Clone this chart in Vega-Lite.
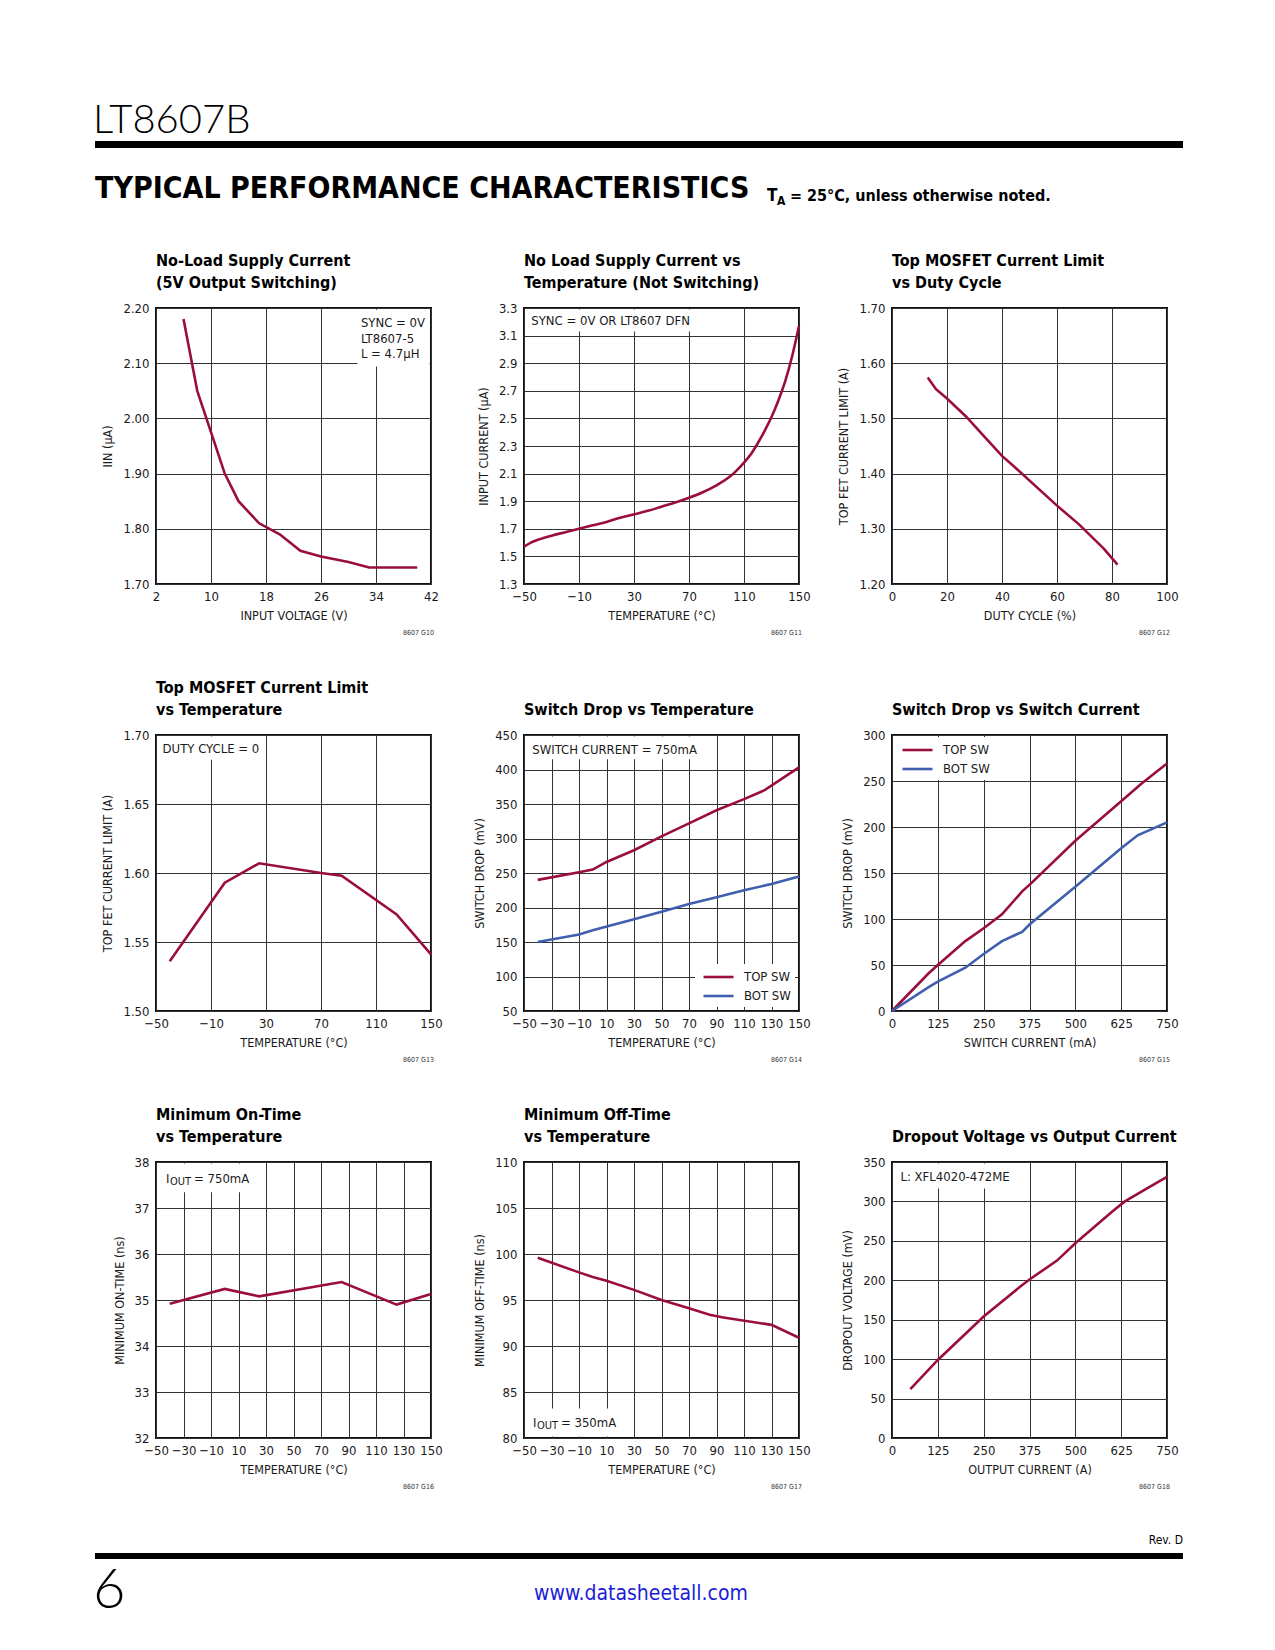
{
  "$schema": "https://vega.github.io/schema/vega-lite/v6.json",
  "background": "white",
  "padding": 0,
  "autosize": {"type": "pad"},
  "config": {
    "font": "DejaVu Sans Condensed, DejaVu Sans, sans-serif",
    "view": {"stroke": "#111111", "strokeWidth": 2},
    "axis": {"grid": true, "gridColor": "#333333", "gridWidth": 1, "gridOpacity": 1, "ticks": false, "domain": false, "tickCount": 40, "labelFontSize": 13, "labelColor": "#1a1a1a", "labelFlush": false, "labelOverlap": false, "labelBound": false, "titleFontSize": 12.5, "titleFontWeight": "normal", "titleColor": "#1a1a1a"},
    "axisX": {"labelPadding": 6, "titlePadding": 6},
    "axisY": {"labelPadding": 7, "titlePadding": 8},
    "title": {"anchor": "start", "frame": "group", "fontSize": 16, "fontWeight": "bold", "color": "#000000", "offset": 11, "lineHeight": 22},
    "legend": {"symbolType": "M-0.6,0H3.4", "symbolSize": 225, "symbolStrokeWidth": 3, "labelFontSize": 13, "labelColor": "#1a1a1a", "fillColor": "white", "padding": 4, "offset": 4, "rowPadding": 3, "labelOffset": 27},
    "line": {"strokeWidth": 2.6, "color": "#9A0F3A"},
    "text": {"fontSize": 13, "color": "#1a1a1a"}
  },
  "datasets": {
    "one": [{}],
    "g10": [{"v":6,"i":2.18},{"v":8,"i":2.05},{"v":10,"i":1.975},{"v":12,"i":1.90},{"v":14,"i":1.85},{"v":17,"i":1.81},{"v":20,"i":1.79},{"v":23,"i":1.76},{"v":26,"i":1.75},{"v":30,"i":1.74},{"v":33,"i":1.73},{"v":40,"i":1.73}],
    "g11": [{"t":-50,"i":1.57},{"t":-45,"i":1.60},{"t":-40,"i":1.62},{"t":-30,"i":1.65},{"t":-20,"i":1.675},{"t":-10,"i":1.70},{"t":0,"i":1.725},{"t":10,"i":1.75},{"t":20,"i":1.78},{"t":30,"i":1.805},{"t":40,"i":1.83},{"t":50,"i":1.86},{"t":60,"i":1.89},{"t":70,"i":1.925},{"t":80,"i":1.965},{"t":90,"i":2.015},{"t":100,"i":2.08},{"t":110,"i":2.18},{"t":115,"i":2.24},{"t":120,"i":2.32},{"t":125,"i":2.41},{"t":130,"i":2.51},{"t":135,"i":2.63},{"t":140,"i":2.77},{"t":145,"i":2.95},{"t":150,"i":3.17}],
    "g12": [{"d":13,"a":1.574},{"d":16,"a":1.553},{"d":20,"a":1.536},{"d":27,"a":1.503},{"d":33,"a":1.47},{"d":40,"a":1.432},{"d":45,"a":1.41},{"d":60,"a":1.342},{"d":68,"a":1.308},{"d":77,"a":1.264},{"d":82,"a":1.235}],
    "g13": [{"t":-40,"a":1.536},{"t":0,"a":1.593},{"t":25,"a":1.607},{"t":70,"a":1.600},{"t":85,"a":1.598},{"t":125,"a":1.570},{"t":150,"a":1.541}],
    "g14": [{"t":-40,"mv":240,"s":"TOP SW"},{"t":-10,"mv":251,"s":"TOP SW"},{"t":0,"mv":255,"s":"TOP SW"},{"t":10,"mv":266,"s":"TOP SW"},{"t":30,"mv":283,"s":"TOP SW"},{"t":50,"mv":303,"s":"TOP SW"},{"t":70,"mv":322,"s":"TOP SW"},{"t":90,"mv":341,"s":"TOP SW"},{"t":110,"mv":357,"s":"TOP SW"},{"t":125,"mv":370,"s":"TOP SW"},{"t":150,"mv":403,"s":"TOP SW"},
            {"t":-40,"mv":150,"s":"BOT SW"},{"t":-10,"mv":161,"s":"BOT SW"},{"t":0,"mv":167,"s":"BOT SW"},{"t":30,"mv":183,"s":"BOT SW"},{"t":50,"mv":194,"s":"BOT SW"},{"t":70,"mv":205,"s":"BOT SW"},{"t":90,"mv":215,"s":"BOT SW"},{"t":110,"mv":225,"s":"BOT SW"},{"t":130,"mv":234,"s":"BOT SW"},{"t":150,"mv":245,"s":"BOT SW"}],
    "g15": [{"c":0,"mv":0,"s":"TOP SW"},{"c":100,"mv":41,"s":"TOP SW"},{"c":125,"mv":50,"s":"TOP SW"},{"c":200,"mv":76,"s":"TOP SW"},{"c":250,"mv":90,"s":"TOP SW"},{"c":300,"mv":105,"s":"TOP SW"},{"c":355,"mv":130,"s":"TOP SW"},{"c":380,"mv":139,"s":"TOP SW"},{"c":500,"mv":185,"s":"TOP SW"},{"c":625,"mv":228,"s":"TOP SW"},{"c":680,"mv":247,"s":"TOP SW"},{"c":750,"mv":269,"s":"TOP SW"},
            {"c":0,"mv":0,"s":"BOT SW"},{"c":100,"mv":26,"s":"BOT SW"},{"c":125,"mv":32,"s":"BOT SW"},{"c":200,"mv":47,"s":"BOT SW"},{"c":250,"mv":62,"s":"BOT SW"},{"c":300,"mv":76,"s":"BOT SW"},{"c":355,"mv":86,"s":"BOT SW"},{"c":375,"mv":94,"s":"BOT SW"},{"c":500,"mv":135,"s":"BOT SW"},{"c":625,"mv":177,"s":"BOT SW"},{"c":670,"mv":191,"s":"BOT SW"},{"c":750,"mv":205,"s":"BOT SW"}],
    "g16": [{"t":-40,"ns":34.92},{"t":0,"ns":35.24},{"t":25,"ns":35.08},{"t":85,"ns":35.39},{"t":125,"ns":34.90},{"t":150,"ns":35.13}],
    "g17": [{"t":-40,"ns":99.6},{"t":-10,"ns":98.0},{"t":0,"ns":97.5},{"t":10,"ns":97.1},{"t":30,"ns":96.1},{"t":50,"ns":95.0},{"t":70,"ns":94.1},{"t":85,"ns":93.4},{"t":95,"ns":93.1},{"t":130,"ns":92.3},{"t":150,"ns":90.9}],
    "g18": [{"c":50,"mv":62},{"c":125,"mv":99},{"c":250,"mv":154},{"c":350,"mv":192},{"c":375,"mv":201},{"c":450,"mv":225},{"c":500,"mv":247},{"c":600,"mv":287},{"c":635,"mv":300},{"c":705,"mv":319},{"c":750,"mv":331}]
  },
  "columns": 3,
  "spacing": {"row": 151, "column": 93},
  "bounds": "flush",
  "align": "each",
  "concat": [
    {
      "width": 275, "height": 6, "view": {"stroke": null},
      "data": {"name": "one"},
      "layer": [
        {"mark": {"type": "rule", "opacity": 0, "strokeWidth": 0},
         "encoding": {"x": {"datum": 0, "scale": {"domain": [156, 431], "nice": false, "zero": false}, "axis": null},
                      "y": {"datum": 0, "scale": {"domain": [151, 157], "nice": false, "zero": false, "reverse": true}, "axis": null},
                      "x2": {"datum": 1275}, "y2": {"datum": 1650}}},
        {"mark": {"type": "rect", "fill": "black"},
         "encoding": {"x": {"datum": 95, "axis": null}, "x2": {"datum": 1183}, "y": {"datum": 141, "axis": null}, "y2": {"datum": 148}}},
        {"mark": {"type": "rect", "fill": "black"},
         "encoding": {"x": {"datum": 95, "axis": null}, "x2": {"datum": 1183}, "y": {"datum": 1553, "axis": null}, "y2": {"datum": 1559}}},
        {"mark": {"type": "text", "align": "left", "baseline": "middle", "font": "Lato, DejaVu Sans, sans-serif", "fontWeight": 300, "fontSize": 40, "color": "black"},
         "encoding": {"x": {"datum": 93, "axis": null}, "y": {"datum": 121, "axis": null}, "text": {"value": "LT8607B"}}},
        {"mark": {"type": "text", "align": "left", "baseline": "middle", "fontWeight": "bold", "fontSize": 30, "color": "black"},
         "encoding": {"x": {"datum": 95, "axis": null}, "y": {"datum": 189, "axis": null}, "text": {"value": "TYPICAL PERFORMANCE CHARACTERISTICS"}}},
        {"mark": {"type": "text", "align": "left", "baseline": "alphabetic", "fontWeight": "bold", "fontSize": 17, "color": "black"},
         "encoding": {"x": {"datum": 767, "axis": null}, "y": {"datum": 201, "axis": null}, "text": {"value": "T"}}},
        {"mark": {"type": "text", "align": "left", "baseline": "alphabetic", "fontWeight": "bold", "fontSize": 12, "color": "black"},
         "encoding": {"x": {"datum": 777, "axis": null}, "y": {"datum": 205, "axis": null}, "text": {"value": "A"}}},
        {"mark": {"type": "text", "align": "left", "baseline": "alphabetic", "fontWeight": "bold", "fontSize": 16, "color": "black"},
         "encoding": {"x": {"datum": 790, "axis": null}, "y": {"datum": 201, "axis": null}, "text": {"value": "= 25°C, unless otherwise noted."}}},
        {"mark": {"type": "text", "align": "right", "baseline": "middle", "fontSize": 12, "color": "black"},
         "encoding": {"x": {"datum": 1183, "axis": null}, "y": {"datum": 1540, "axis": null}, "text": {"value": "Rev. D"}}},
        {"mark": {"type": "text", "align": "left", "baseline": "middle", "font": "Lato, DejaVu Sans, sans-serif", "fontWeight": 300, "fontSize": 56, "color": "black"},
         "encoding": {"x": {"datum": 93, "axis": null}, "y": {"datum": 1591, "axis": null}, "text": {"value": "6"}}},
        {"mark": {"type": "text", "align": "left", "baseline": "middle", "fontSize": 21, "color": "#1c1cd8"},
         "encoding": {"x": {"datum": 534, "axis": null}, "y": {"datum": 1594, "axis": null}, "text": {"value": "www.datasheetall.com"}}}
      ]
    },
    {"width": 275, "height": 6, "view": {"stroke": null}, "data": {"name": "one"}, "mark": {"type": "point", "opacity": 0}, "encoding": {}},
    {"width": 275, "height": 6, "view": {"stroke": null}, "data": {"name": "one"}, "mark": {"type": "point", "opacity": 0}, "encoding": {}},
    {
      "width": 275, "height": 276,
      "title": {"text": ["No-Load Supply Current", "(5V Output Switching)"]},
      "layer": [
        {"data": {"name": "one"}, "mark": {"type": "rect", "fill": "white"},
         "encoding": {"x": {"datum": 31.3}, "x2": {"datum": 41.78}, "y": {"datum": 2.094}, "y2": {"datum": 2.197}}},
        {"data": {"name": "one"}, "mark": {"type": "text", "align": "left", "baseline": "middle", "lineHeight": 15.5},
         "encoding": {"x": {"datum": 31.8}, "y": {"datum": 2.172}, "text": {"value": ["SYNC = 0V", "LT8607-5", "L = 4.7µH"]}}},
        {"data": {"name": "g10"}, "mark": {"type": "line"},
         "encoding": {"x": {"field": "v", "type": "quantitative", "scale": {"domain": [2, 42], "nice": false, "zero": false}, "axis": {"values": [2, 10, 18, 26, 34, 42], "title": "INPUT VOLTAGE (V)"}},
                      "y": {"field": "i", "type": "quantitative", "scale": {"domain": [1.7, 2.2], "nice": false, "zero": false}, "axis": {"values": [1.7, 1.8, 1.9, 2.0, 2.1, 2.2], "format": ".2f", "title": "IIN (µA)"}}}},
        {"data": {"name": "one"}, "mark": {"type": "text", "align": "right", "baseline": "middle", "dx": 3, "dy": 49, "fontSize": 7, "color": "#333333"},
         "encoding": {"x": {"datum": 42}, "y": {"datum": 1.7}, "text": {"value": "8607 G10"}}}
      ]
    },
    {
      "width": 275, "height": 276,
      "title": {"text": ["No Load Supply Current vs", "Temperature (Not Switching)"]},
      "layer": [
        {"data": {"name": "one"}, "mark": {"type": "rect", "fill": "white"},
         "encoding": {"x": {"datum": -48.9}, "x2": {"datum": 71}, "y": {"datum": 3.13}, "y2": {"datum": 3.289}}},
        {"data": {"name": "one"}, "mark": {"type": "text", "align": "left", "baseline": "middle"},
         "encoding": {"x": {"datum": -44.7}, "y": {"datum": 3.208}, "text": {"value": "SYNC = 0V OR LT8607 DFN"}}},
        {"data": {"name": "g11"}, "mark": {"type": "line", "interpolate": "monotone"},
         "encoding": {"x": {"field": "t", "type": "quantitative", "scale": {"domain": [-50, 150], "nice": false, "zero": false}, "axis": {"values": [-50, -10, 30, 70, 110, 150], "title": "TEMPERATURE (°C)"}},
                      "y": {"field": "i", "type": "quantitative", "scale": {"domain": [1.3, 3.3], "nice": false, "zero": false}, "axis": {"values": [1.3, 1.5, 1.7, 1.9, 2.1, 2.3, 2.5, 2.7, 2.9, 3.1, 3.3], "format": ".1f", "title": "INPUT CURRENT (µA)"}}}},
        {"data": {"name": "one"}, "mark": {"type": "text", "align": "right", "baseline": "middle", "dx": 3, "dy": 49, "fontSize": 7, "color": "#333333"},
         "encoding": {"x": {"datum": 150}, "y": {"datum": 1.3}, "text": {"value": "8607 G11"}}}
      ]
    },
    {
      "width": 275, "height": 276,
      "title": {"text": ["Top MOSFET Current Limit", "vs Duty Cycle"]},
      "layer": [
        {"data": {"name": "g12"}, "mark": {"type": "line"},
         "encoding": {"x": {"field": "d", "type": "quantitative", "scale": {"domain": [0, 100], "nice": false, "zero": false}, "axis": {"values": [0, 20, 40, 60, 80, 100], "title": "DUTY CYCLE (%)"}},
                      "y": {"field": "a", "type": "quantitative", "scale": {"domain": [1.2, 1.7], "nice": false, "zero": false}, "axis": {"values": [1.2, 1.3, 1.4, 1.5, 1.6, 1.7], "format": ".2f", "title": "TOP FET CURRENT LIMIT (A)"}}}},
        {"data": {"name": "one"}, "mark": {"type": "text", "align": "right", "baseline": "middle", "dx": 3, "dy": 49, "fontSize": 7, "color": "#333333"},
         "encoding": {"x": {"datum": 100}, "y": {"datum": 1.2}, "text": {"value": "8607 G12"}}}
      ]
    },
    {
      "width": 275, "height": 276,
      "title": {"text": ["Top MOSFET Current Limit", "vs Temperature"]},
      "layer": [
        {"data": {"name": "one"}, "mark": {"type": "rect", "fill": "white"},
         "encoding": {"x": {"datum": -48.9}, "x2": {"datum": 26}, "y": {"datum": 1.682}, "y2": {"datum": 1.6989}}},
        {"data": {"name": "one"}, "mark": {"type": "text", "align": "left", "baseline": "middle"},
         "encoding": {"x": {"datum": -45.2}, "y": {"datum": 1.6896}, "text": {"value": "DUTY CYCLE = 0"}}},
        {"data": {"name": "g13"}, "mark": {"type": "line"},
         "encoding": {"x": {"field": "t", "type": "quantitative", "scale": {"domain": [-50, 150], "nice": false, "zero": false}, "axis": {"values": [-50, -10, 30, 70, 110, 150], "title": "TEMPERATURE (°C)"}},
                      "y": {"field": "a", "type": "quantitative", "scale": {"domain": [1.5, 1.7], "nice": false, "zero": false}, "axis": {"values": [1.5, 1.55, 1.6, 1.65, 1.7], "format": ".2f", "title": "TOP FET CURRENT LIMIT (A)"}}}},
        {"data": {"name": "one"}, "mark": {"type": "text", "align": "right", "baseline": "middle", "dx": 3, "dy": 49, "fontSize": 7, "color": "#333333"},
         "encoding": {"x": {"datum": 150}, "y": {"datum": 1.5}, "text": {"value": "8607 G13"}}}
      ]
    },
    {
      "width": 275, "height": 276,
      "title": {"text": "Switch Drop vs Temperature"},
      "layer": [
        {"data": {"name": "one"}, "mark": {"type": "rect", "fill": "white"},
         "encoding": {"x": {"datum": -48.9}, "x2": {"datum": 80}, "y": {"datum": 415}, "y2": {"datum": 447.8}}},
        {"data": {"name": "one"}, "mark": {"type": "text", "align": "left", "baseline": "middle"},
         "encoding": {"x": {"datum": -44}, "y": {"datum": 428.7}, "text": {"value": "SWITCH CURRENT = 750mA"}}},
        {"data": {"name": "g14"}, "mark": {"type": "line"},
         "encoding": {"x": {"field": "t", "type": "quantitative", "scale": {"domain": [-50, 150], "nice": false, "zero": false}, "axis": {"values": [-50, -30, -10, 10, 30, 50, 70, 90, 110, 130, 150], "format": "d", "title": "TEMPERATURE (°C)"}},
                      "y": {"field": "mv", "type": "quantitative", "scale": {"domain": [50, 450], "nice": false, "zero": false}, "axis": {"values": [50, 100, 150, 200, 250, 300, 350, 400, 450], "format": "d", "title": "SWITCH DROP (mV)"}},
                      "color": {"field": "s", "type": "nominal", "scale": {"domain": ["TOP SW", "BOT SW"], "range": ["#9A0F3A", "#3F5FAE"]}, "legend": {"orient": "bottom-right", "title": null}}}},
        {"data": {"name": "one"}, "mark": {"type": "text", "align": "right", "baseline": "middle", "dx": 3, "dy": 49, "fontSize": 7, "color": "#333333"},
         "encoding": {"x": {"datum": 150}, "y": {"datum": 50}, "text": {"value": "8607 G14"}}}
      ]
    },
    {
      "width": 275, "height": 276,
      "title": {"text": "Switch Drop vs Switch Current"},
      "layer": [
        {"data": {"name": "g15"}, "mark": {"type": "line"},
         "encoding": {"x": {"field": "c", "type": "quantitative", "scale": {"domain": [0, 750], "nice": false, "zero": false}, "axis": {"values": [0, 125, 250, 375, 500, 625, 750], "format": "d", "title": "SWITCH CURRENT (mA)"}},
                      "y": {"field": "mv", "type": "quantitative", "scale": {"domain": [0, 300], "nice": false, "zero": false}, "axis": {"values": [0, 50, 100, 150, 200, 250, 300], "format": "d", "title": "SWITCH DROP (mV)"}},
                      "color": {"field": "s", "type": "nominal", "scale": {"domain": ["TOP SW", "BOT SW"], "range": ["#9A0F3A", "#3F5FAE"]}, "legend": {"orient": "top-left", "title": null, "offset": 2}}}},
        {"data": {"name": "one"}, "mark": {"type": "text", "align": "right", "baseline": "middle", "dx": 3, "dy": 49, "fontSize": 7, "color": "#333333"},
         "encoding": {"x": {"datum": 750}, "y": {"datum": 0}, "text": {"value": "8607 G15"}}}
      ]
    },
    {
      "width": 275, "height": 276,
      "title": {"text": ["Minimum On-Time", "vs Temperature"]},
      "layer": [
        {"data": {"name": "one"}, "mark": {"type": "rect", "fill": "white"},
         "encoding": {"x": {"datum": -48.9}, "x2": {"datum": 16}, "y": {"datum": 37.34}, "y2": {"datum": 37.967}}},
        {"data": {"name": "one"}, "mark": {"type": "text", "align": "left", "baseline": "middle"},
         "encoding": {"x": {"datum": -42.7}, "y": {"datum": 37.64}, "text": {"value": "I"}}},
        {"data": {"name": "one"}, "mark": {"type": "text", "align": "left", "baseline": "middle", "dx": 4, "dy": 3, "fontSize": 11},
         "encoding": {"x": {"datum": -42.7}, "y": {"datum": 37.64}, "text": {"value": "OUT"}}},
        {"data": {"name": "one"}, "mark": {"type": "text", "align": "left", "baseline": "middle", "dx": 28},
         "encoding": {"x": {"datum": -42.7}, "y": {"datum": 37.64}, "text": {"value": "= 750mA"}}},
        {"data": {"name": "g16"}, "mark": {"type": "line"},
         "encoding": {"x": {"field": "t", "type": "quantitative", "scale": {"domain": [-50, 150], "nice": false, "zero": false}, "axis": {"values": [-50, -30, -10, 10, 30, 50, 70, 90, 110, 130, 150], "format": "d", "title": "TEMPERATURE (°C)"}},
                      "y": {"field": "ns", "type": "quantitative", "scale": {"domain": [32, 38], "nice": false, "zero": false}, "axis": {"values": [32, 33, 34, 35, 36, 37, 38], "format": "d", "title": "MINIMUM ON-TIME (ns)"}}}},
        {"data": {"name": "one"}, "mark": {"type": "text", "align": "right", "baseline": "middle", "dx": 3, "dy": 49, "fontSize": 7, "color": "#333333"},
         "encoding": {"x": {"datum": 150}, "y": {"datum": 32}, "text": {"value": "8607 G16"}}}
      ]
    },
    {
      "width": 275, "height": 276,
      "title": {"text": ["Minimum Off-Time", "vs Temperature"]},
      "layer": [
        {"data": {"name": "one"}, "mark": {"type": "rect", "fill": "white"},
         "encoding": {"x": {"datum": -48.9}, "x2": {"datum": 17}, "y": {"datum": 80.16}, "y2": {"datum": 83.2}}},
        {"data": {"name": "one"}, "mark": {"type": "text", "align": "left", "baseline": "middle"},
         "encoding": {"x": {"datum": -43.5}, "y": {"datum": 81.6}, "text": {"value": "I"}}},
        {"data": {"name": "one"}, "mark": {"type": "text", "align": "left", "baseline": "middle", "dx": 4, "dy": 3, "fontSize": 11},
         "encoding": {"x": {"datum": -43.5}, "y": {"datum": 81.6}, "text": {"value": "OUT"}}},
        {"data": {"name": "one"}, "mark": {"type": "text", "align": "left", "baseline": "middle", "dx": 28},
         "encoding": {"x": {"datum": -43.5}, "y": {"datum": 81.6}, "text": {"value": "= 350mA"}}},
        {"data": {"name": "g17"}, "mark": {"type": "line"},
         "encoding": {"x": {"field": "t", "type": "quantitative", "scale": {"domain": [-50, 150], "nice": false, "zero": false}, "axis": {"values": [-50, -30, -10, 10, 30, 50, 70, 90, 110, 130, 150], "format": "d", "title": "TEMPERATURE (°C)"}},
                      "y": {"field": "ns", "type": "quantitative", "scale": {"domain": [80, 110], "nice": false, "zero": false}, "axis": {"values": [80, 85, 90, 95, 100, 105, 110], "format": "d", "title": "MINIMUM OFF-TIME (ns)"}}}},
        {"data": {"name": "one"}, "mark": {"type": "text", "align": "right", "baseline": "middle", "dx": 3, "dy": 49, "fontSize": 7, "color": "#333333"},
         "encoding": {"x": {"datum": 150}, "y": {"datum": 80}, "text": {"value": "8607 G17"}}}
      ]
    },
    {
      "width": 275, "height": 276,
      "title": {"text": "Dropout Voltage vs Output Current"},
      "layer": [
        {"data": {"name": "one"}, "mark": {"type": "rect", "fill": "white"},
         "encoding": {"x": {"datum": 4}, "x2": {"datum": 333}, "y": {"datum": 316.5}, "y2": {"datum": 348.1}}},
        {"data": {"name": "one"}, "mark": {"type": "text", "align": "left", "baseline": "middle"},
         "encoding": {"x": {"datum": 23}, "y": {"datum": 330.5}, "text": {"value": "L: XFL4020-472ME"}}},
        {"data": {"name": "g18"}, "mark": {"type": "line"},
         "encoding": {"x": {"field": "c", "type": "quantitative", "scale": {"domain": [0, 750], "nice": false, "zero": false}, "axis": {"values": [0, 125, 250, 375, 500, 625, 750], "format": "d", "title": "OUTPUT CURRENT (A)"}},
                      "y": {"field": "mv", "type": "quantitative", "scale": {"domain": [0, 350], "nice": false, "zero": false}, "axis": {"values": [0, 50, 100, 150, 200, 250, 300, 350], "format": "d", "title": "DROPOUT VOLTAGE (mV)"}}}},
        {"data": {"name": "one"}, "mark": {"type": "text", "align": "right", "baseline": "middle", "dx": 3, "dy": 49, "fontSize": 7, "color": "#333333"},
         "encoding": {"x": {"datum": 750}, "y": {"datum": 0}, "text": {"value": "8607 G18"}}}
      ]
    }
  ]
}
